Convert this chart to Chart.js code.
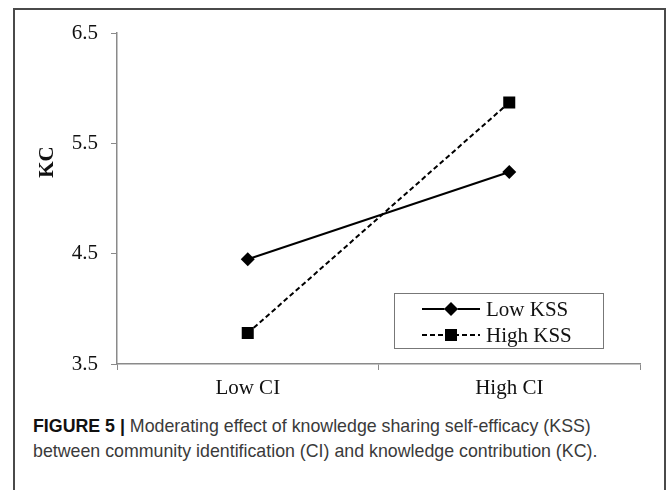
<!DOCTYPE html>
<html>
<head>
<meta charset="utf-8">
<script src="https://cdn.jsdelivr.net/npm/chart.js@4"></script>
<style>
  body { margin: 0; background: #fff; width: 670px; height: 490px; overflow: hidden; position: relative; }
  #frame { position: absolute; left: 13px; top: 8px; width: 653px; height: 500px; border: 2px solid #4a4a4a; border-bottom: none; box-sizing: border-box; }
  #wrap { position: absolute; left: 0; top: 0; width: 670px; height: 410px; }
  #caption { position: absolute; left: 33px; top: 414px; width: 632px; font-family: "Liberation Sans", Arial, sans-serif; font-size: 17.8px; line-height: 25px; color: #3a3a3a; white-space: nowrap; }
  #caption b { color: #111; }
</style>
</head>
<body>
<div id="frame"></div>
<div id="wrap"><canvas id="grafico"></canvas></div>
<div id="caption"><b>FIGURE 5 |</b> Moderating effect of knowledge sharing self-efficacy (KSS)<br>between community identification (CI) and knowledge contribution (KC).</div>
<script>
// datos
const categorias = ['Low CI', 'High CI'];
const lowKSS = [4.45, 5.24];
const highKSS = [3.78, 5.87];
const yTicks = [3.5, 4.5, 5.5, 6.5];
const tituloY = 'KC';

const serif = '"Liberation Serif", "Times New Roman", serif';
const gris = '#8a8a8a';

// titulo del eje Y y leyenda dibujados a mano
const extras = {
  id: 'extras',
  afterDraw(chart) {
    const c = chart.ctx;
    const area = chart.chartArea;

    // titulo "KC" girado
    c.save();
    c.translate(48, area.top + 129);
    c.rotate(-Math.PI / 2);
    c.font = 'bold 21px ' + serif;
    c.fillStyle = '#111';
    c.textAlign = 'center';
    c.textBaseline = 'middle';
    c.fillText(tituloY, 0, 0);
    c.restore();

    // leyenda
    const x0 = area.right - 246, y0 = area.bottom - 71, w = 209, h = 55;
    c.save();
    c.fillStyle = '#fff';
    c.fillRect(x0, y0, w, h);
    c.strokeStyle = '#777';
    c.lineWidth = 1;
    c.strokeRect(x0 + 0.5, y0 + 0.5, w, h);
    chart.data.datasets.forEach((ds, i) => {
      const y = y0 + 16 + i * 26;
      c.strokeStyle = ds.borderColor;
      c.lineWidth = ds.borderWidth;
      c.setLineDash(ds.borderDash || []);
      c.beginPath();
      c.moveTo(x0 + 28, y);
      c.lineTo(x0 + 86, y);
      c.stroke();
      c.setLineDash([]);
      Chart.helpers.drawPoint(c, { pointStyle: ds.pointStyle, radius: ds.pointRadius, borderWidth: 0 }, x0 + 57, y);
      c.fillStyle = '#000';
      c.fill();
      c.fillStyle = '#111';
      c.font = '21px ' + serif;
      c.textBaseline = 'middle';
      c.fillText(ds.label, x0 + 92, y + 1);
    });
    c.restore();
  }
};

new Chart(document.getElementById('grafico'), {
  type: 'line',
  data: {
    labels: categorias,
    datasets: [
      {
        label: 'Low KSS',
        data: lowKSS,
        borderColor: '#000',
        backgroundColor: '#000',
        borderWidth: 2,
        pointStyle: 'rectRot',
        pointRadius: 7,
        pointBorderWidth: 0
      },
      {
        label: 'High KSS',
        data: highKSS,
        borderColor: '#000',
        backgroundColor: '#000',
        borderWidth: 2,
        borderDash: [5, 3],
        pointStyle: 'rect',
        pointRadius: 8.5,
        pointBorderWidth: 0
      }
    ]
  },
  options: {
    responsive: true,
    maintainAspectRatio: false,
    animation: false,
    layout: { padding: { top: 33, right: 30, left: 0, bottom: 0 } },
    plugins: { legend: { display: false }, tooltip: { enabled: false } },
    scales: {
      x: {
        offset: true,
        grid: { drawOnChartArea: false, offset: true, tickLength: 6, color: gris },
        border: { color: gris, width: 1.5 },
        ticks: { font: { family: serif, size: 21 }, color: '#111', padding: 6 },
        afterFit: (s) => { s.height = 46; }
      },
      y: {
        min: 3.5,
        max: 6.5,
        afterBuildTicks: (s) => { s.ticks = yTicks.map(v => ({ value: v })); },
        grid: { drawOnChartArea: false, tickLength: 6, color: gris },
        border: { color: gris, width: 1.5 },
        ticks: { font: { family: serif, size: 21 }, color: '#111', padding: 13, callback: (v) => v.toFixed(1) },
        afterFit: (s) => { s.width = 117; }
      }
    }
  },
  plugins: [extras]
});
</script>
</body>
</html>
